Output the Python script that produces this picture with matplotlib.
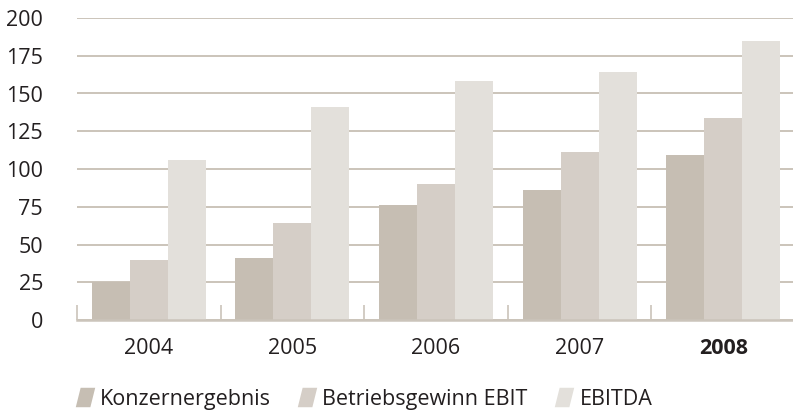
import matplotlib
matplotlib.use("Agg")
from matplotlib import pyplot as plt
from matplotlib.lines import Line2D
from matplotlib.path import Path
import numpy as np

plt.rcParams['font.family'] = ['Open Sans', 'DejaVu Sans']

years = ['2004', '2005', '2006', '2007', '2008']
konzern = [25, 41, 76, 86, 109]
ebit = [40, 64, 90, 111, 134]
ebitda = [106, 141, 158, 164, 185]
series_names = ['Konzernergebnis', 'Betriebsgewinn EBIT', 'EBITDA']
colors = ['#c6beb3', '#d5cec7', '#e3e0db']
grid_col = '#cbc4ba'
text_col = '#231f20'
fs = 15.5

fig = plt.figure(figsize=(7.93, 4.11), dpi=100)
ax = fig.add_axes([77 / 793, 1 - 320 / 411, 718 / 793, (320 - 18) / 411])

x = np.arange(len(years)) + 0.5
w = 38 / 143.5
for i, vals in enumerate([konzern, ebit, ebitda]):
    ax.bar(x + (i - 1) * w, vals, width=w, color=colors[i], zorder=3)

ax.set_xlim(0, 5)
ax.set_ylim(0, 200)
ax.set_yticks(range(0, 201, 25))
ax.yaxis.grid(True, color=grid_col, linewidth=1.4, zorder=0)
ax.set_axisbelow(True)
for s in ['top', 'right', 'left']:
    ax.spines[s].set_visible(False)
ax.spines['bottom'].set_color(grid_col)
ax.spines['bottom'].set_linewidth(1.8)
ax.spines['bottom'].set_zorder(4)

ax.set_xticks(x)
ax.set_xticklabels(years)
ax.set_xticks(range(0, 5), minor=True)
ax.tick_params(axis='x', which='major', length=0, pad=13, labelsize=fs, labelcolor=text_col)
ax.tick_params(axis='x', which='minor', length=11, width=1.2, direction='in', color=grid_col)
ax.tick_params(axis='y', length=0, pad=24.5, labelsize=fs, labelcolor=text_col)
ax.get_xticklabels()[-1].set_fontweight('bold')

# slanted square legend marker
slant = Path([(-0.5, -0.5), (0.25, -0.5), (0.5, 0.5), (-0.25, 0.5), (-0.5, -0.5)],
             [Path.MOVETO, Path.LINETO, Path.LINETO, Path.LINETO, Path.CLOSEPOLY])
handles = [Line2D([], [], marker=slant, linestyle='', markersize=14, color=c, markeredgewidth=0)
           for c in colors]
fig.legend(handles, series_names, loc='center left', bbox_to_anchor=(76 / 793, 1 - 399 / 411),
           ncol=3, frameon=False, fontsize=fs, handletextpad=0.3, columnspacing=1.3,
           handlelength=0.8, borderpad=0, borderaxespad=0, labelcolor=text_col)

fig.savefig('out.png', dpi=100)
